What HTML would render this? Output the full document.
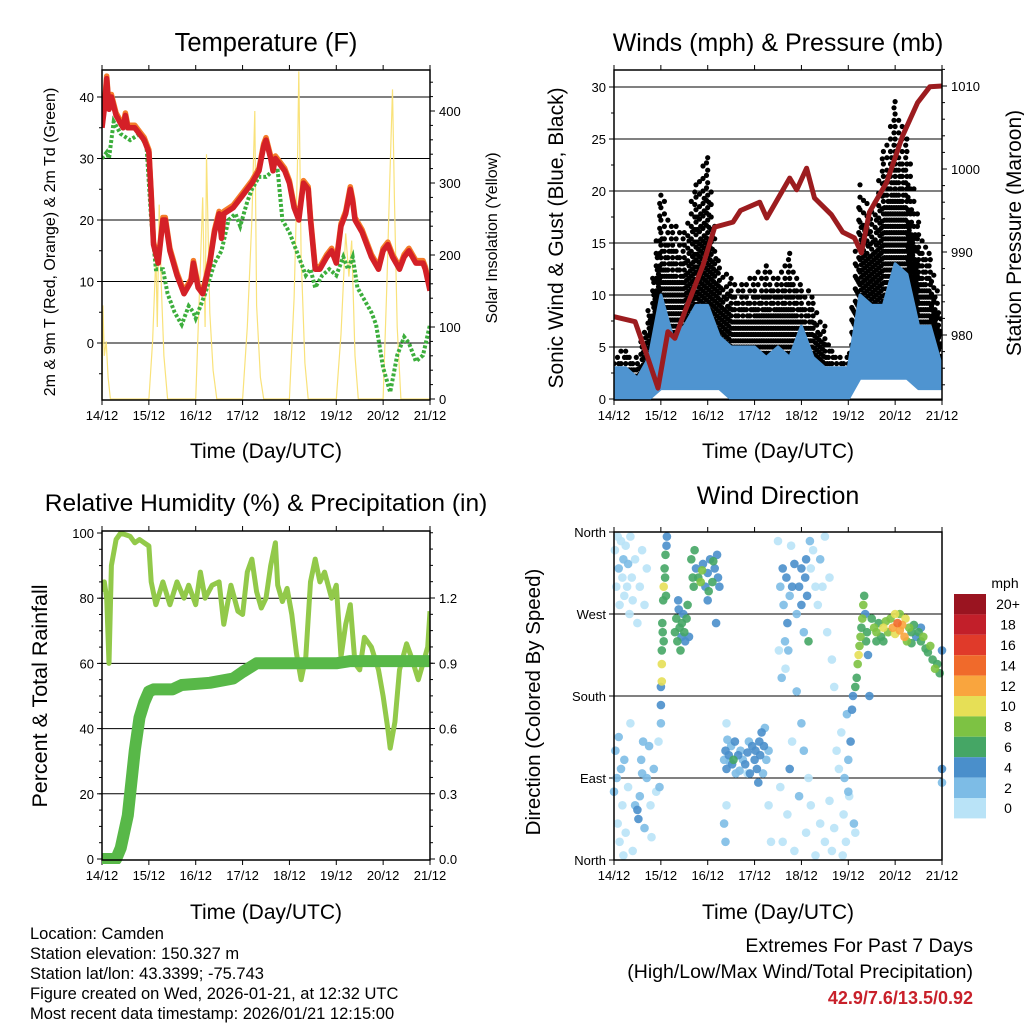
<!DOCTYPE html>
<html><head><meta charset="utf-8">
<style>
html,body{margin:0;padding:0;background:#fff;}
svg{display:block;font-family:"Liberation Sans",sans-serif;}
</style></head>
<body>
<svg id="fig" width="1024" height="1024" viewBox="0 0 1024 1024" xmlns="http://www.w3.org/2000/svg">
<rect width="1024" height="1024" fill="#fff"/>
<text x="266" y="51" font-size="25.5" text-anchor="middle">Temperature (F)</text>
<text x="778" y="51" font-size="25" text-anchor="middle">Winds (mph) &amp; Pressure (mb)</text>
<text x="266" y="511" font-size="24.5" text-anchor="middle">Relative Humidity (%) &amp; Precipitation (in)</text>
<text x="778" y="504" font-size="25" text-anchor="middle">Wind Direction</text>

<text x="266" y="458" font-size="21" text-anchor="middle">Time (Day/UTC)</text>
<text x="778" y="458" font-size="21" text-anchor="middle">Time (Day/UTC)</text>
<text x="266" y="919" font-size="21" text-anchor="middle">Time (Day/UTC)</text>
<text x="778" y="919" font-size="21" text-anchor="middle">Time (Day/UTC)</text>

<text transform="translate(55,242) rotate(-90)" font-size="16" text-anchor="middle">2m &amp; 9m T (Red, Orange) &amp; 2m Td (Green)</text>
<text transform="translate(497,238) rotate(-90)" font-size="16" text-anchor="middle">Solar Insolation (Yellow)</text>
<text transform="translate(563,238) rotate(-90)" font-size="21" text-anchor="middle">Sonic Wind &amp; Gust (Blue, Black)</text>
<text transform="translate(1021,233) rotate(-90)" font-size="21" text-anchor="middle">Station Pressure (Maroon)</text>
<text transform="translate(47,696) rotate(-90)" font-size="21.5" text-anchor="middle">Percent &amp; Total Rainfall</text>
<text transform="translate(540,702) rotate(-90)" font-size="20.5" text-anchor="middle">Direction (Colored By Speed)</text>

<g font-size="16.5">
<text x="30" y="939">Location: Camden</text>
<text x="30" y="959">Station elevation: 150.327 m</text>
<text x="30" y="979">Station lat/lon: 43.3399; -75.743</text>
<text x="30" y="999">Figure created on Wed, 2026-01-21, at 12:32 UTC</text>
<text x="30" y="1019">Most recent data timestamp: 2026/01/21 12:15:00</text>
</g>
<g font-size="19.5" text-anchor="end">
<text x="973" y="952">Extremes For Past 7 Days</text>
<text x="973" y="978">(High/Low/Max Wind/Total Precipitation)</text>
<text x="973" y="1004" fill="#c8202a" font-weight="bold" font-size="18">42.9/7.6/13.5/0.92</text>
</g>
<g id="layer"></g>
</svg>
<script>
// ---------- DATA ----------
const xTickLabels = ["14/12","15/12","16/12","17/12","18/12","19/12","20/12","21/12"];
// Temperature (F)
const tempTime = [0,0.05,0.1,0.15,0.2,0.3,0.45,0.5,0.55,0.7,0.9,1.0,1.05,1.1,1.2,1.3,1.35,1.45,1.6,1.75,1.9,1.95,2.05,2.15,2.3,2.4,2.5,2.55,2.6,2.8,3.0,3.2,3.35,3.45,3.5,3.6,3.65,3.7,3.8,3.9,4.0,4.1,4.2,4.25,4.3,4.4,4.45,4.55,4.65,4.8,4.9,5.0,5.1,5.2,5.3,5.35,5.4,5.55,5.75,5.9,6.0,6.1,6.2,6.35,6.45,6.55,6.7,6.85,6.9,7.0];
const tempVals = [35,38,43,38,40,37,35,37,35,35,33,31,24,16,13,20,20,15,11,8,10,13,9,8,13,18,21,17,21,22,24,26,28,32,33,30,28,30,29,28,26,22,20,23,26,25,20,12,12,14,15,13,19,21,25,23,20,18,14,12,15,16,14,12,14,15,13,13,12,8.5];
const dewTime = [0,0.1,0.15,0.25,0.4,0.6,0.8,0.95,1.05,1.15,1.3,1.4,1.55,1.7,1.85,1.95,2.0,2.2,2.4,2.55,2.7,2.85,2.95,3.1,3.2,3.35,3.5,3.65,3.75,3.85,4.0,4.2,4.35,4.45,4.55,4.7,4.85,5.0,5.15,5.25,5.35,5.45,5.6,5.75,5.85,6.0,6.15,6.3,6.45,6.55,6.7,6.85,7.0];
const dewVals = [30,31,30,36,34,33,34,32,20,12,12,8,5,3,6,5,4,8,13,15,20,21,19,23,25,27,27,28,28,20,18,14,11,12,9,11,12,11,14,12,14,9,7,5,3,-4,-8,-2,1,0,-3,-2,3];
const solarTime = [0,0.02,0.05,0.09,0.13,0.18,1.0,1.08,1.15,1.18,1.22,1.27,1.32,1.4,2.0,2.08,2.15,2.2,2.23,2.3,2.37,2.45,3.0,3.1,3.2,3.26,3.3,3.38,3.45,4.0,4.1,4.17,4.2,4.25,4.33,4.4,5.0,5.1,5.2,5.27,5.33,5.4,5.47,6.0,6.08,6.14,6.2,6.24,6.3,6.38,7.0];
const solarVals = [0,130,60,80,30,0,0,80,200,100,270,150,60,0,0,150,280,100,340,120,40,0,0,100,250,400,130,30,0,0,140,320,455,200,50,0,0,90,230,170,220,60,0,0,160,300,430,280,100,0,0];
// Winds
const windBinTime = [0,0.25,0.5,0.75,1,1.25,1.5,1.75,2,2.25,2.5,2.75,3,3.25,3.5,3.75,4,4.25,4.5,4.75,5,5.25,5.5,5.75,6,6.25,6.5,6.75,7];
const sonicLo = [0,0,0,0,1,1,1,1,1,1,0,0,0,0,0,0,0,0,0,0,0,2,2,2,2,2,1,1,1];
const sonicHi = [3,3,2,4,10,6,7,9,9,6,5,5,5,4,5,4,7,4,3,3,3,10,9,9,13,12,7,7,3];
const gustLo = [1,1,1,2,4,4,4,5,4,3,2,2,2,2,2,2,2,2,1,1,1,5,6,7,7,7,5,5,2];
const gustHi = [4,5,4,9,20,17,16,21,24,13,12,11,12,13,12,14,11,10,7,4,4,21,18,24,29,25,17,14,8];
const presTime = [0,0.45,0.7,0.94,1.15,1.3,1.51,1.9,2.15,2.54,2.7,3.11,3.26,3.75,3.9,4.11,4.28,4.64,4.88,5.13,5.28,5.45,5.82,6.16,6.48,6.74,7.0];
const presVals = [982.2,981.6,977.6,973.6,980.4,979.6,982.8,988.4,993,993.6,995,996,994.1,998.9,997.5,1000.1,996.5,994.5,992.4,991.7,989.9,994.8,998.4,1004,1008,1009.9,1010];
// RH & precipitation
const rhTime = [0,0.05,0.1,0.15,0.2,0.3,0.4,0.6,0.7,0.8,0.9,1.0,1.05,1.15,1.3,1.45,1.6,1.75,1.85,2.0,2.1,2.2,2.35,2.5,2.6,2.75,2.9,3.0,3.1,3.2,3.3,3.4,3.5,3.6,3.7,3.75,3.85,3.95,4.05,4.15,4.25,4.35,4.45,4.55,4.65,4.75,4.9,5.0,5.1,5.2,5.3,5.4,5.5,5.6,5.75,5.9,6.0,6.1,6.15,6.25,6.35,6.5,6.6,6.75,6.85,6.95,7.0];
const rhVals = [82,85,80,60,90,98,100,99,97,98,97,96,85,78,85,78,85,80,84,78,88,80,84,85,72,84,76,75,88,92,82,77,80,90,97,84,79,83,75,63,55,62,85,92,85,88,80,84,62,72,78,60,58,68,65,58,50,40,34,42,58,66,62,55,60,65,76];
const precipTime = [0,0.3,0.4,0.55,0.7,0.8,0.9,1.0,1.1,1.5,1.7,2.3,2.8,3.0,3.3,5.0,5.3,7.0];
const precipVals = [0,0,0.05,0.2,0.5,0.65,0.72,0.77,0.78,0.78,0.8,0.81,0.83,0.86,0.9,0.9,0.91,0.91];
// Wind direction observations [day, degrees, mph]
const dirObs = [
[0.02,340,1],[0.05,300,1],[0.08,355,1],[0.1,320,2],[0.12,280,1],[0.15,350,1],[0.18,310,1],[0.2,330,3],[0.22,290,1],[0.25,345,1],[0.28,300,1],[0.3,325,2],[0.33,270,1],[0.35,355,1],[0.38,310,1],[0.4,285,1],[0.45,330,1],[0.5,260,1],[0.55,300,1],[0.6,340,1],[0.65,280,1],[0.7,320,1],
[0.0,75,2],[0.03,120,3],[0.06,90,2],[0.08,40,1],[0.1,135,2],[0.12,20,1],[0.15,100,3],[0.18,60,1],[0.2,5,1],[0.22,110,2],[0.25,30,1],[0.3,80,1],[0.35,150,1],[0.4,10,1],[0.45,60,3],[0.5,55,4],[0.52,45,4],[0.55,70,3],[0.58,110,2],[0.6,95,2],[0.62,130,3],[0.65,35,3],[0.7,90,2],[0.75,125,2],[0.78,60,1],[0.8,25,1],[0.85,100,2],[0.9,75,1],[0.95,130,1],[0.97,80,3],[1.0,150,3],[1.0,170,4],[1.0,190,4],
[1.02,230,7],[1.03,260,7],[1.04,250,6],[1.05,285,6],[1.06,300,10],[1.08,320,6],[1.1,335,7],[1.12,345,5],[1.13,355,4],[1.02,215,10],[1.02,196,10],[1.06,240,6],[1.09,310,7],[1.11,290,6],
[1.3,250,6],[1.33,265,7],[1.35,240,6],[1.38,275,5],[1.4,255,7],[1.42,230,6],[1.45,260,6],[1.48,270,5],[1.5,250,7],[1.52,240,4],[1.55,265,6],[1.57,280,7],[1.37,285,4],[1.44,245,4],[1.6,245,4],
[1.65,330,7],[1.68,310,6],[1.7,300,6],[1.75,320,5],[1.8,310,7],[1.85,305,8],[1.9,325,4],[1.95,300,4],[2.0,315,4],[2.05,330,4],[2.1,305,6],[2.15,320,4],[2.2,335,4],[2.25,300,5],[1.88,318,9],[2.02,295,6],[2.12,328,6],[2.0,285,4],[2.22,310,4],[1.72,340,6],[2.18,260,4],
[2.35,110,3],[2.38,120,4],[2.4,100,4],[2.45,115,5],[2.5,125,3],[2.52,105,4],[2.55,110,6],[2.58,130,4],[2.6,95,3],[2.65,115,4],[2.7,120,2],[2.75,110,3],[2.8,105,4],[2.85,118,4],[2.9,95,4],[2.95,125,4],[3.0,110,5],[3.02,120,4],[3.05,100,4],[3.1,130,4],[3.12,115,5],[3.15,140,4],[3.2,125,4],[3.22,145,3],[3.25,110,3],[3.3,120,2],[2.47,108,2],[2.68,98,3],[2.88,130,2],[3.08,85,4],[3.18,95,3],[2.42,132,2],
[2.35,40,3],[2.38,20,2],[2.4,60,1],[2.4,150,1],[2.85,95,1],[3.3,60,1],[3.35,20,1],
[3.5,350,1],[3.55,300,2],[3.6,320,4],[3.62,280,3],[3.65,240,3],[3.68,310,4],[3.7,260,4],[3.72,230,3],[3.75,290,2],[3.78,345,1],[3.8,300,4],[3.85,325,4],[3.9,270,3],[3.95,300,4],[4.0,320,5],[4.0,280,4],[4.05,250,3],[4.08,310,4],[4.1,330,4],[4.12,290,4],[4.15,240,6],[4.18,350,3],[4.2,320,1],[4.25,340,1],[4.3,300,1],[4.35,280,1],[4.4,330,2],[4.45,300,1],[4.5,355,1],[4.55,250,1],[4.6,310,1],[4.65,220,1],[4.7,190,1],[3.58,200,2],[3.66,210,1],[3.9,185,2],[3.52,230,1],
[3.55,80,1],[3.6,20,1],[3.7,50,1],[3.75,100,4],[3.8,130,1],[3.85,10,1],[3.95,70,2],[4.0,150,3],[4.05,120,2],[4.1,30,1],[4.15,90,1],[4.2,60,1],[4.3,5,1],[4.4,40,1],[4.5,20,1],[4.6,65,1],[4.65,10,1],[4.7,35,1],[4.75,120,1],[4.8,100,1],
[4.85,140,1],[4.9,50,1],[4.92,90,2],[4.95,20,1],[4.97,160,3],[5.0,110,3],[5.02,70,1],[5.05,130,4],[5.08,165,4],[5.1,180,5],[5.12,40,2],[5.15,30,1],[4.88,5,1],[5.0,75,2],
[5.15,190,6],[5.18,200,7],[5.2,215,8],[5.22,225,10],[5.24,235,8],[5.26,245,8],[5.28,255,7],[5.3,265,8],[5.32,280,8],[5.34,290,7],[5.36,270,4],[5.4,250,7],[5.42,225,4],[5.38,240,6],[5.45,180,4],
[5.5,265,7],[5.55,255,8],[5.6,250,8],[5.65,260,7],[5.7,245,7],[5.75,255,10],[5.8,262,9],[5.85,250,8],[5.9,265,8],[5.95,255,12],[6.0,248,11],[6.05,260,14],[6.1,252,12],[6.15,258,13],[6.2,245,12],[6.22,265,10],[6.25,240,8],[6.3,255,9],[6.35,250,7],[6.4,258,6],[6.45,245,5],[6.5,250,7],[6.55,240,6],[6.6,245,8],[6.65,232,7],[6.7,228,6],[6.75,235,8],[6.8,220,7],[6.85,210,8],[6.9,215,6],[6.95,205,7],[7.0,230,4],[5.6,240,6],[5.75,240,7],[6.0,270,10],[6.1,270,9],[6.35,238,6],[6.55,255,5],[7.0,100,4],[7.0,85,3]
];
const speedColors = ["#b9e3f7","#7dbce6","#4a8fcb","#45a665","#7dc243","#e6df56","#f9a53e","#f06a2b","#e03a2a","#c21f2a","#9a1420"];
const speedLabels = ["0","2","4","6","8","10","12","14","16","18","20+"];

// ---------- DRAWING ----------
const NS="http://www.w3.org/2000/svg";
const layer=document.getElementById('layer');
function mk(tag,attrs,parent){const e=document.createElementNS(NS,tag);for(const k in attrs)e.setAttribute(k,attrs[k]);(parent||layer).appendChild(e);return e;}
function lin(d0,d1,r0,r1){return v=>r0+(v-d0)/(d1-d0)*(r1-r0);}
function pathOf(xs,ys,sx,sy){return xs.map((t,i)=>(i?'L':'M')+sx(t).toFixed(1)+','+sy(ys[i]).toFixed(1)).join('');}

function panel(name){
  const g=mk('g',{});
  
  
  return g;
}
function frame(g,x0,x1,y0,y1){
  const r=mk('rect',{x:x0,y:y0,width:x1-x0,height:y1-y0,fill:'none',stroke:'#000','stroke-width':1.5},g);
  
  
}
function xAxis(g,sx,y0,y1){
  xTickLabels.forEach((lab,i)=>{
    const x=sx(i);
    mk('line',{x1:x,x2:x,y1:y1,y2:y1+5,stroke:'#000','stroke-width':1},g);
    mk('line',{x1:x,x2:x,y1:y0,y2:y0-5,stroke:'#000','stroke-width':1},g);
    const t=mk('text',{x:x,y:y1+20,'font-size':13,'text-anchor':'middle'},g);
    t.textContent=lab;
    
    
  });
}
function yAxisLeft(g,sy,ticks,x0,x1,grid,labels,minor){
  ticks.forEach((v,i)=>{
    const y=sy(v);
    if(grid) mk('line',{x1:x0,x2:x1,y1:y,y2:y,stroke:'#000','stroke-width':1},g);
    mk('line',{x1:x0-5,x2:x0,y1:y,y2:y,stroke:'#000','stroke-width':1},g);
    const t=mk('text',{x:x0-8,y:y+5,'font-size':13,'text-anchor':'end'},g);
    t.textContent=labels?labels[i]:v;
    
    
  });
  if(minor) minor.forEach(v=>mk('line',{x1:x0-3,x2:x0,y1:sy(v),y2:sy(v),stroke:'#000','stroke-width':1},g));
}
function yAxisRight(g,sy,ticks,x1,labels,minor){
  ticks.forEach((v,i)=>{
    const y=sy(v);
    mk('line',{x1:x1,x2:x1+5,y1:y,y2:y,stroke:'#000','stroke-width':1},g);
    const t=mk('text',{x:x1+9,y:y+5,'font-size':13,'text-anchor':'start'},g);
    t.textContent=labels?labels[i]:v;
    
    
  });
  if(minor) minor.forEach(v=>mk('line',{x1:x1,x2:x1+3,y1:sy(v),y2:sy(v),stroke:'#000','stroke-width':1},g));
}
function range(a,b,s){const r=[];for(let v=a;v<=b+1e-9;v+=s)r.push(+v.toFixed(3));return r;}

// Panel 1: Temperature
(function(){
  const X0=102,X1=430,Y0=70,Y1=400;
  const g=panel('temperature-panel');
  const sx=lin(0,7,X0,X1), sy=lin(0,40,343,97), sr=lin(0,400,399,111);
  yAxisLeft(g,sy,[0,10,20,30,40],X0,X1,true,null,range(-5,40,5));
  yAxisRight(g,sr,[0,100,200,300,400],X1,null,range(0,450,20));
  xAxis(g,sx,Y0,Y1);
  const cp=mk('clipPath',{id:'c1'},g);mk('rect',{x:X0,y:Y0,width:X1-X0,height:Y1-Y0},cp);
  const s=mk('path',{d:pathOf(solarTime,solarVals,sx,sr),fill:'none',stroke:'#f9e27a','stroke-width':1.2,'clip-path':'url(#c1)'},g);
  
  
  const d=mk('path',{d:pathOf(dewTime,dewVals,sx,sy),fill:'none',stroke:'#3cae3c','stroke-width':4,'stroke-dasharray':'3 2','clip-path':'url(#c1)'},g);
  
  
  const o=mk('path',{d:pathOf(tempTime,tempVals.map(v=>v+0.4),sx,sy),fill:'none',stroke:'#f47c2a','stroke-width':5.5,'stroke-linejoin':'round','clip-path':'url(#c1)'},g);
  
  
  const r=mk('path',{d:pathOf(tempTime,tempVals,sx,sy),fill:'none',stroke:'#d42027','stroke-width':5.5,'stroke-linejoin':'round','clip-path':'url(#c1)'},g);
  
  
  frame(g,X0,X1,Y0,Y1);
})();

// Panel 2: Winds & Pressure
(function(){
  const X0=614,X1=942,Y0=70,Y1=400;
  const g=panel('winds-panel');
  const sx=lin(0,7,X0,X1), sy=lin(0,30,399,87), sp=lin(980,1010,335,86);
  yAxisLeft(g,sy,[0,5,10,15,20,25,30],X0,X1,true,null,range(0,31,2.5));
  yAxisRight(g,sp,[980,990,1000,1010],X1,null,range(974,1012,2));
  xAxis(g,sx,Y0,Y1);
  const cp=mk('clipPath',{id:'c2'},g);mk('rect',{x:X0,y:Y0,width:X1-X0,height:Y1-Y0},cp);
  const gg=mk('g',{fill:'#000','clip-path':'url(#c2)'},g);
  
  
  for(let i=0;i<windBinTime.length-1;i++){
    const sub=10;
    for(let k=0;k<sub;k++){
      const f=k/sub;
      const t=windBinTime[i]+f*(windBinTime[i+1]-windBinTime[i]);
      const lo=gustLo[i]+f*(gustLo[i+1]-gustLo[i]);
      const hi=gustHi[i]+f*(gustHi[i+1]-gustHi[i]);
      const top=(k%3===0)?hi:lo+(hi-lo)*(k%3===1?0.8:0.6);
      for(let v=lo+(k%2)*0.6;v<=top+0.01;v+=1.2){
        mk('circle',{cx:sx(t).toFixed(1),cy:sy(v).toFixed(1),r:2.6},gg);
      }
    }
  }
  const up=windBinTime.map((t,i)=>sx(t).toFixed(1)+','+sy(sonicHi[i]).toFixed(1));
  const dn=windBinTime.map((t,i)=>sx(t).toFixed(1)+','+sy(sonicLo[i]).toFixed(1)).reverse();
  const b=mk('polygon',{points:up.concat(dn).join(' '),fill:'#4f94d0',stroke:'#4f94d0','stroke-width':3,'stroke-linejoin':'round','clip-path':'url(#c2)'},g);
  
  
  const p=mk('path',{d:pathOf(presTime,presVals,sx,sp),fill:'none',stroke:'#9c1c1f','stroke-width':5,'stroke-linejoin':'round','clip-path':'url(#c2)'},g);
  
  
  frame(g,X0,X1,Y0,Y1);
})();

// Panel 3: RH & Precip
(function(){
  const X0=102,X1=430,Y0=531,Y1=860;
  const g=panel('humidity-panel');
  const sx=lin(0,7,X0,X1), sy=lin(0,100,859,533), sr=lin(0,1.2,859,598);
  yAxisLeft(g,sy,[0,20,40,60,80,100],X0,X1,false,null,range(0,100,5));
  [20,40,60,80].forEach(v=>mk('line',{x1:X0,x2:X1,y1:sy(v),y2:sy(v),stroke:'#000','stroke-width':1},g));
  yAxisRight(g,sr,[0,0.3,0.6,0.9,1.2],X1,["0.0","0.3","0.6","0.9","1.2"],range(0,1.5,0.075));
  xAxis(g,sx,Y0,Y1);
  const cp=mk('clipPath',{id:'c3'},g);mk('rect',{x:X0,y:Y0-4,width:X1-X0,height:Y1-Y0+8},cp);
  const h=mk('path',{d:pathOf(rhTime,rhVals,sx,sy),fill:'none',stroke:'#92c94a','stroke-width':5,'stroke-linejoin':'round','clip-path':'url(#c3)'},g);
  
  
  const p=mk('path',{d:pathOf(precipTime,precipVals,sx,sr),fill:'none',stroke:'#58b848','stroke-width':12,'stroke-linejoin':'round','clip-path':'url(#c3)'},g);
  
  
  frame(g,X0,X1,Y0,Y1);
})();

// Panel 4: Wind direction
(function(){
  const X0=614,X1=942,Y0=532,Y1=860;
  const g=panel('direction-panel');
  const sx=lin(0,7,X0,X1), sy=lin(0,360,860,532);
  yAxisLeft(g,sy,[0,90,180,270,360],X0,X1,false,["North","East","South","West","North"]);
  [90,180,270].forEach(v=>mk('line',{x1:X0,x2:X1,y1:sy(v),y2:sy(v),stroke:'#000','stroke-width':1},g));
  xAxis(g,sx,Y0,Y1);
  const gg=mk('g',{},g);
  
  
  dirObs.slice().sort((a,b)=>a[2]-b[2]).forEach(o=>{
    const ci=Math.min(10,Math.floor(o[2]/2));
    mk('circle',{cx:sx(o[0]).toFixed(1),cy:sy(o[1]).toFixed(1),r:4.3,fill:speedColors[ci],'fill-opacity':0.9},gg);
  });
  frame(g,X0,X1,Y0,Y1);
  // colorbar
  const cb=mk('g',{},g);
  
  
  const t=mk('text',{x:1005,y:588,'font-size':14,'text-anchor':'middle'},cb);t.textContent='mph';
  const bh=20.4, top=594;
  for(let i=0;i<11;i++){
    const idx=10-i;
    mk('rect',{x:954,y:top+i*bh,width:32,height:bh,fill:speedColors[idx]},cb);
    const l=mk('text',{x:1008,y:top+i*bh+bh/2+5,'font-size':14,'text-anchor':'middle'},cb);
    l.textContent=speedLabels[idx];
  }
})();
</script>
</body></html>
